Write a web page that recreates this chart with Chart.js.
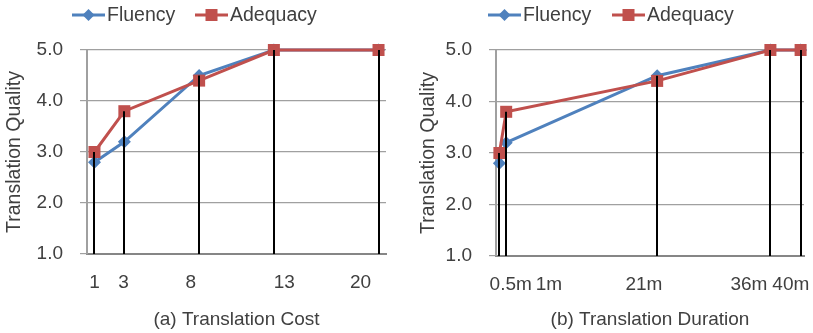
<!DOCTYPE html>
<html>
<head>
<meta charset="utf-8">
<script src="https://cdn.jsdelivr.net/npm/chart.js@4.4.1/dist/chart.umd.min.js"></script>
<style>
  html, body { margin: 0; padding: 0; background: #fff; }
  #wrap { position: relative; width: 813px; height: 333px; }
  canvas { position: absolute; top: 0; }
</style>
</head>
<body>
<div id="wrap">
  <canvas id="cost" width="406" height="333" style="left:0"></canvas>
  <canvas id="duration" width="407" height="333" style="left:406px"></canvas>
</div>
<script>
// data
const seriesNames = ["Fluency", "Adequacy"];
const costX = [1, 3, 8, 13, 20];
const durationX = [0.1, 1, 21, 36, 40];
const fluency = [2.8, 3.2, 4.5, 5.0, 5.0];
const adequacy = [3.0, 3.8, 4.4, 5.0, 5.0];
const costTickLabels = ["1", "3", "8", "13", "20"];
const durationTickLabels = ["0.5m", "1m", "21m", "36m", "40m"];
const qualityTicks = [1, 2, 3, 4, 5];

// where the original put its (hand placed) axis labels, in axis units
const costLabelAt = [1, 2.95, 7.45, 13.7, 18.8];
const durationLabelAt = [1.6, 6.65, 19.25, 33.15, 38.7];

const FONT = "'Liberation Sans', Arial, sans-serif";
const TEXT = "#404040";
const BLUE = "#4F81BD";
const RED = "#C0504D";

Chart.defaults.font.family = FONT;
Chart.defaults.color = TEXT;

// black lines from the axis up to the highest point of each x
const dropLines = {
  id: "dropLines",
  afterDatasetsDraw(chart) {
    const { ctx, scales } = chart;
    const sets = chart.data.datasets;
    ctx.save();
    ctx.strokeStyle = "#000";
    ctx.lineWidth = 2;
    sets[0].data.forEach((p, i) => {
      const top = Math.max(...sets.map(d => d.data[i].y));
      const px = Math.round(scales.x.getPixelForValue(p.x));
      ctx.beginPath();
      ctx.moveTo(px, scales.y.getPixelForValue(scales.y.min));
      ctx.lineTo(px, scales.y.getPixelForValue(top));
      ctx.stroke();
    });
    ctx.restore();
  }
};

// excel-like legend: line with marker, then label
const lineLegend = {
  id: "lineLegend",
  afterDraw(chart, args, opts) {
    const ctx = chart.ctx;
    ctx.save();
    chart.data.datasets.forEach((ds, i) => {
      const x0 = opts.at[i];
      const y = opts.y;
      ctx.strokeStyle = ds.borderColor;
      ctx.lineWidth = 3;
      ctx.beginPath();
      ctx.moveTo(x0, y);
      ctx.lineTo(x0 + 33, y);
      ctx.stroke();
      ctx.fillStyle = ds.backgroundColor;
      const cx = x0 + 16.5;
      if (ds.pointStyle === "rect") {
        ctx.fillRect(cx - 6, y - 6, 12, 12);
      } else {
        ctx.beginPath();
        ctx.moveTo(cx, y - 6);
        ctx.lineTo(cx + 6, y);
        ctx.lineTo(cx, y + 6);
        ctx.lineTo(cx - 6, y);
        ctx.closePath();
        ctx.fill();
      }
      ctx.fillStyle = TEXT;
      ctx.font = "19.5px " + FONT;
      ctx.textBaseline = "middle";
      ctx.textAlign = "left";
      ctx.fillText(ds.label, x0 + 35, y + 1);
    });
    ctx.restore();
  }
};

function makeChart(id, xs, tickLabels, labelAt, xMin, xMax, title, lay) {
  return new Chart(document.getElementById(id), {
    type: "scatter",
    data: {
      datasets: [
        {
          label: seriesNames[0],
          data: xs.map((x, i) => ({ x: x, y: fluency[i] })),
          showLine: true,
          clip: false,
          borderColor: BLUE,
          backgroundColor: BLUE,
          borderWidth: 3,
          pointStyle: "rectRot",
          pointRadius: 6.5,
          pointBorderWidth: 0,
          order: 1
        },
        {
          label: seriesNames[1],
          data: xs.map((x, i) => ({ x: x, y: adequacy[i] })),
          showLine: true,
          clip: false,
          borderColor: RED,
          backgroundColor: RED,
          borderWidth: 3,
          pointStyle: "rect",
          pointRadius: 8.5,
          pointBorderWidth: 0,
          order: 0
        }
      ]
    },
    options: {
      responsive: false,
      animation: false,
      layout: { padding: { top: lay.top, right: lay.right, left: 0, bottom: 0 } },
      plugins: {
        legend: { display: false },
        tooltip: { enabled: false },
        lineLegend: { at: lay.legendAt, y: 15 }
      },
      scales: {
        x: {
          type: "linear",
          min: xMin,
          max: xMax,
          afterFit: s => {
            s.height = lay.xHeight;
            s.paddingLeft = 0;
            s.paddingRight = 0;
          },
          afterBuildTicks: s => { s.ticks = labelAt.map(v => ({ value: v })); },
          grid: { display: false, drawTicks: false },
          border: { display: true, color: "#868686", width: 2 },
          ticks: {
            autoSkip: false,
            maxRotation: 0,
            padding: 17,
            font: { size: 19 },
            color: TEXT,
            callback: (v, i) => tickLabels[i]
          },
          title: {
            display: true,
            text: title,
            font: { size: 19 },
            color: TEXT,
            padding: { top: 0, bottom: 2 }
          }
        },
        y: {
          min: 1,
          max: 5,
          afterFit: s => { s.width = lay.yWidth; },
          afterBuildTicks: s => { s.ticks = qualityTicks.map(v => ({ value: v })); },
          grid: { color: "#A0A0A0", lineWidth: 1.2, tickLength: 7 },
          border: { display: true, color: "#A0A0A0", width: 2 },
          ticks: {
            padding: 17,
            font: { size: 19 },
            color: TEXT,
            callback: v => v.toFixed(1)
          },
          title: {
            display: true,
            text: "Translation Quality",
            font: { size: 19.5 },
            color: TEXT,
            padding: { top: lay.yTitlePad, bottom: 0 }
          }
        }
      }
    },
    plugins: [dropLines, lineLegend]
  });
}

makeChart("cost", costX, costTickLabels, costLabelAt, 0.5, 20.5, "(a) Translation Cost",
  { top: 50, right: 20, yWidth: 87, xHeight: 79, yTitlePad: 3, legendAt: [72, 195] });

makeChart("duration", durationX, durationTickLabels, durationLabelAt, -0.35, 40.45, "(b) Translation Duration",
  { top: 50, right: 9, yWidth: 90, xHeight: 77, yTitlePad: 11, legendAt: [82, 206] });
</script>
</body>
</html>
